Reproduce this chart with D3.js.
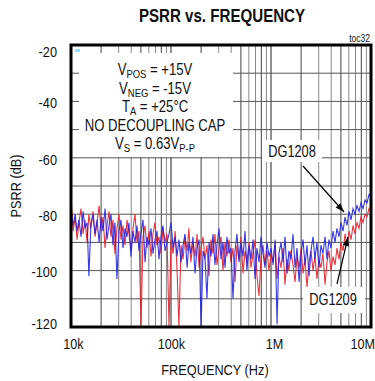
<!DOCTYPE html>
<html><head><meta charset="utf-8">
<script src="https://cdn.jsdelivr.net/npm/d3@7"></script>
<style>html,body{margin:0;padding:0;background:#fff;}svg{display:block;font-family:"Liberation Sans",Arial,sans-serif;}</style>
</head><body>
<svg id="c" width="375" height="381"></svg>
<script>
// ---- data ----
const freqK = [10.0,10.5,11.0,11.5,12.0,12.6,13.2,13.8,14.5,15.1,15.8,16.6,17.4,18.2,19.1,20.0,20.9,21.9,22.9,24.0,25.1,26.3,27.5,28.8,30.2,31.6,33.1,34.7,36.3,38.0,39.8,41.7,43.7,45.7,47.9,50.1,52.5,55.0,57.5,60.3,63.1,66.1,69.2,72.4,75.9,79.4,83.2,87.1,91.2,95.5,
100,105,110,115,120,126,132,138,145,151,158,166,174,182,191,200,209,219,229,240,251,263,275,288,302,316,331,347,363,380,398,417,437,457,479,501,525,550,575,603,631,661,692,724,759,794,832,871,912,955,
1000,1050,1100,1150,1200,1260,1320,1380,1450,1510,1580,1660,1740,1820,1910,2000,2090,2190,2290,2400,2510,2630,2750,2880,3020,3160,3310,3470,3630,3800,3980,4170,4370,4570,4790,5010,5250,5500,5750,6030,6310,6610,6920,7240,7590,7940,8320,8710,9120,9550,10000];

const dg1208 = [-78,-84,-80,-86,-82,-88,-79,-85,-83,-102,-84,-80,-87,-82,-90,-81,-86,-78,-89,-84,-80,-91,-83,-103,-86,-82,-92,-85,-88,-83,-95,-86,-90,-84,-93,-87,-82,-97,-88,-91,-85,-94,-89,-86,-96,-88,-84,-93,-90,-87,
-83,-92,-88,-95,-89,-97,-91,-87,-99,-90,-94,-88,-101,-92,-89,-120,-93,-96,-110,-90,-95,-87,-98,-91,-85,-96,-90,-99,-88,-94,-92,-110,-93,-87,-97,-90,-95,-86,-100,-91,-96,-89,-103,-92,-97,-88,-94,-99,-90,-95,
-92,-98,-89,-119,-94,-90,-97,-88,-101,-93,-96,-87,-99,-92,-104,-94,-89,-98,-91,-102,-93,-88,-96,-90,-99,-91,-94,-88,-96,-89,-92,-86,-90,-85,-88,-83,-86,-81,-84,-79,-82,-78,-80,-77,-79,-76,-78,-75,-76,-73,-74];

const dg1209 = [-74,-86,-81,-89,-83,-78,-87,-82,-90,-80,-85,-79,-88,-83,-77,-86,-81,-92,-84,-79,-88,-82,-94,-85,-80,-89,-84,-91,-82,-87,-93,-85,-80,-90,-86,-120,-88,-84,-92,-86,-95,-87,-83,-91,-88,-94,-85,-90,-87,-120,
-89,-94,-86,-100,-120,-91,-96,-88,-93,-85,-97,-90,-95,-87,-99,-92,-88,-96,-91,-102,-89,-94,-87,-98,-92,-88,-100,-90,-95,-89,-97,-92,-104,-91,-96,-88,-101,-93,-97,-90,-99,-94,-89,-102,-109,-95,-91,-98,-93,-100,
-94,-97,-90,-103,-95,-99,-92,-105,-96,-100,-93,-98,-104,-95,-99,-92,-101,-96,-106,-97,-93,-100,-95,-103,-96,-99,-94,-105,-97,-93,-100,-95,-98,-92,-96,-90,-93,-87,-91,-86,-89,-84,-87,-83,-85,-81,-83,-80,-81,-78,-79];

const xTickValues = [1e4, 1e5, 1e6, 1e7];
const xTickLabels = ["10k", "100k", "1M", "10M"];
const yTickValues = [-120, -100, -80, -60, -40, -20];
const yTickLabels = ["-120", "-100", "-80", "-60", "-40", "-20"];

// ---- layout ----
const L = 71, R = 371, T = 45, B = 327;
const svg = d3.select("#c");
const x = d3.scaleLog().domain([1e4, 1e7]).range([L, R]);
const y = d3.scaleLinear().domain([-120, -20]).range([B, T]);

// grid
const minorVals = [];
[1e4, 1e5, 1e6].forEach(d => { for (let k = 1; k <= 9; k++) minorVals.push(d * k); });
minorVals.push(1e7);
const grid = svg.append("g");
grid.selectAll("line.v").data(minorVals).join("line")
  .attr("x1", d => x(d)).attr("x2", d => x(d)).attr("y1", T).attr("y2", B)
  .attr("stroke", (d, i) => (i % 9 === 0 ? "#222" : (i % 3 === 1 ? "#444" : "#8a8a8a")))
  .attr("stroke-width", 1);
grid.selectAll("line.h").data(d3.range(-110, -20, 10)).join("line")
  .attr("x1", L).attr("x2", R).attr("y1", d => y(d)).attr("y2", d => y(d))
  .attr("stroke", "#555").attr("stroke-width", 1);

// data lines
svg.append("clipPath").attr("id", "clip").append("rect")
  .attr("x", L).attr("y", T).attr("width", R - L).attr("height", B - T);
const line = vals => d3.line().x((d, i) => x(freqK[i] * 1000)).y(d => y(d))(vals);
const plot = svg.append("g").attr("clip-path", "url(#clip)");
plot.append("path").attr("d", line(dg1209)).attr("fill", "none")
  .attr("stroke", "#e8202c").attr("stroke-width", 1.1).attr("stroke-opacity", 0.9);
plot.append("path").attr("d", line(dg1208)).attr("fill", "none")
  .attr("stroke", "#2424e0").attr("stroke-width", 1.1).attr("stroke-opacity", 0.9);

// conditions box
svg.append("rect").attr("x", 79).attr("y", 53).attr("width", 154).attr("height", 104).attr("fill", "#fff");
svg.append("rect").attr("x", 75).attr("y", 49).attr("width", 5).attr("height", 3).attr("fill", "#8ee0f2");

function ctext(xp, yp, anchor, size, sx, weight) {
  return svg.append("text")
    .attr("transform", `translate(${xp},${yp}) scale(${sx},1)`)
    .attr("text-anchor", anchor).attr("font-size", size)
    .attr("font-weight", weight || "normal").attr("fill", "#111");
}
function subText(xp, yp, parts) {
  const t = ctext(xp, yp, "middle", 16, 0.82);
  parts.forEach(p => {
    const s = t.append("tspan").text(p[0]);
    if (p[1]) s.attr("font-size", 11.5).attr("dy", 3);
    if (p[2]) s.attr("dy", -3);
  });
}
const cx = 155;
subText(cx, 75, [["V"], ["POS", true], [" = +15V", false, true]]);
subText(cx, 93.5, [["V"], ["NEG", true], [" = -15V", false, true]]);
subText(cx, 112, [["T"], ["A", true], [" = +25°C", false, true]]);
ctext(cx, 130.5, "middle", 16, 0.82).text("NO DECOUPLING CAP");
subText(cx, 148.5, [["V"], ["S", true], [" = 0.63V", false, true], ["P-P", true]]);

// frame
svg.append("rect").attr("x", L).attr("y", T).attr("width", R - L).attr("height", B - T)
  .attr("fill", "none").attr("stroke", "#000").attr("stroke-width", 3);

// axes
const xa = svg.append("g").attr("transform", `translate(0,${B})`)
  .call(d3.axisBottom(x).tickValues(xTickValues).tickSize(0).tickPadding(11)
    .tickFormat((d, i) => xTickLabels[i]));
xa.select(".domain").remove();
xa.selectAll("text").attr("font-size", 15).attr("fill", "#111")
  .attr("font-family", "Liberation Sans, Arial, sans-serif")
  .attr("text-anchor", (d, i) => i === 3 ? "end" : "middle")
  .attr("transform", (d, i) => `translate(${i === 2 ? 3 : (i === 0 ? 2 : (i === 3 ? 3.5 : 0))},0) scale(0.84,1)`);

const ya = svg.append("g").attr("transform", `translate(${L},0)`)
  .call(d3.axisLeft(y).tickValues(yTickValues).tickSize(0).tickPadding(16.5)
    .tickFormat((d, i) => yTickLabels[i]));
ya.select(".domain").remove();
ya.selectAll("text").attr("font-size", 15).attr("fill", "#111")
  .attr("font-family", "Liberation Sans, Arial, sans-serif")
  .attr("dy", (d) => d === -20 ? "0.75em" : (d === -120 ? "0.1em" : "0.42em"))
  .attr("transform", "scale(0.85,1)");

// titles
ctext(222, 21.5, "middle", 18, 0.84, "bold").text("PSRR vs. FREQUENCY");
ctext(370, 41.5, "end", 10, 0.85).text("toc32");
ctext(215, 374.5, "middle", 15, 0.85).text("FREQUENCY (Hz)");
svg.append("text").attr("transform", "translate(21,186) rotate(-90) scale(0.85,1)")
  .attr("text-anchor", "middle").attr("font-size", 15).attr("fill", "#111").text("PSRR (dB)");

// labels with arrows
function arrow(x1, y1, x2, y2) {
  svg.append("line").attr("x1", x1).attr("y1", y1).attr("x2", x2).attr("y2", y2)
    .attr("stroke", "#000").attr("stroke-width", 1.2);
  const a = Math.atan2(y2 - y1, x2 - x1), len = 9, w = 3.2;
  const bx = x2 - len * Math.cos(a), by = y2 - len * Math.sin(a);
  const px = -Math.sin(a) * w, py = Math.cos(a) * w;
  svg.append("path").attr("d", `M${x2},${y2}L${bx + px},${by + py}L${bx - px},${by - py}Z`).attr("fill", "#000");
}
svg.append("rect").attr("x", 262).attr("y", 140).attr("width", 60).attr("height", 22).attr("fill", "#fff");
ctext(292, 157, "middle", 16, 0.8).text("DG1208");
arrow(303, 166, 344, 212);
svg.append("rect").attr("x", 303).attr("y", 287).attr("width", 62).attr("height", 26).attr("fill", "#fff");
ctext(333, 305, "middle", 16, 0.8).text("DG1209");
arrow(337, 284, 348, 237);
</script>
</body></html>
